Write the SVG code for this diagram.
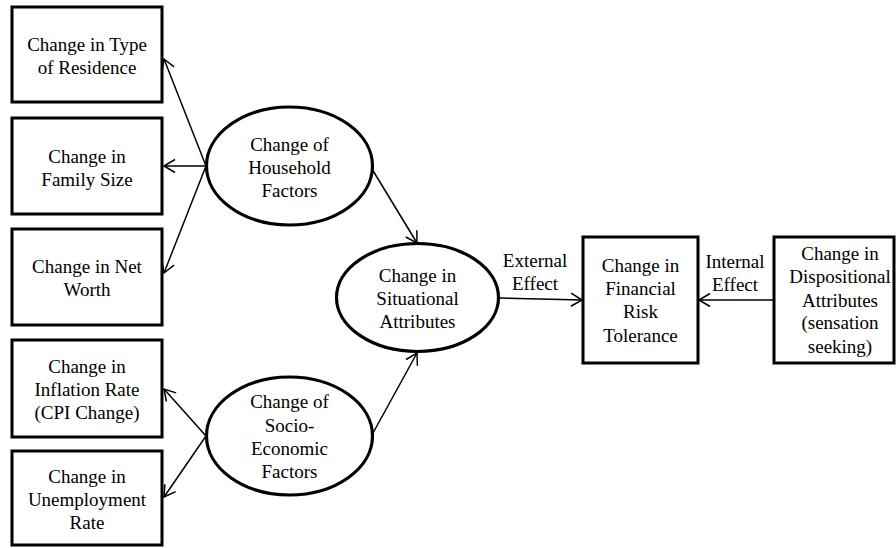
<svg xmlns="http://www.w3.org/2000/svg" width="896" height="548" viewBox="0 0 896 548">
<style>
.box{fill:#fff;stroke:#000;stroke-width:3}
.ell{fill:#fff;stroke:#000;stroke-width:3.2}
text{font-family:'Liberation Serif','Times New Roman',Times,'DejaVu Serif',serif;font-size:19px;fill:#000;text-anchor:middle}
.c{stroke:#000;stroke-width:1.5;fill:none;marker-end:url(#ah)}
</style>
<defs>
<marker id="ah" markerUnits="userSpaceOnUse" markerWidth="14" markerHeight="16" viewBox="-12 -8 14 16" refX="0" refY="0" orient="auto">
<path d="M-11,-6.5 L0,0 L-11,6.5" fill="none" stroke="#000" stroke-width="1.5"/>
</marker>
</defs>
<rect width="896" height="548" fill="#fff"/>
<g id="connectors">
<line class="c" x1="206" y1="166" x2="164" y2="59"/>
<line class="c" x1="206" y1="166" x2="164" y2="166"/>
<line class="c" x1="206" y1="166" x2="164" y2="273"/>
<line class="c" x1="206" y1="436" x2="164" y2="389"/>
<line class="c" x1="206" y1="436" x2="164" y2="497"/>
<line class="c" x1="372" y1="169" x2="417" y2="243"/>
<line class="c" x1="373" y1="433" x2="417" y2="353"/>
<line class="c" x1="499" y1="298" x2="582" y2="300"/>
<line class="c" x1="774" y1="300" x2="699" y2="300"/>
</g>
<g id="residence"><rect class="box" x="12" y="7" width="150" height="95"/>
<text x="87" y="51"><tspan x="87">Change in Type</tspan><tspan x="87" dy="23">of Residence</tspan></text></g>
<g id="family"><rect class="box" x="12" y="118" width="150" height="96"/>
<text x="87" y="163"><tspan x="87">Change in</tspan><tspan x="87" dy="23">Family Size</tspan></text></g>
<g id="networth"><rect class="box" x="12" y="229" width="150" height="96"/>
<text x="87" y="273"><tspan x="87">Change in Net</tspan><tspan x="87" dy="23">Worth</tspan></text></g>
<g id="inflation"><rect class="box" x="12" y="340" width="150" height="97"/>
<text x="87" y="373"><tspan x="87">Change in</tspan><tspan x="87" dy="23">Inflation Rate</tspan><tspan x="87" dy="23">(CPI Change)</tspan></text></g>
<g id="unemployment"><rect class="box" x="12" y="451" width="150" height="94"/>
<text x="87" y="483"><tspan x="87">Change in</tspan><tspan x="87" dy="23">Unemployment</tspan><tspan x="87" dy="23">Rate</tspan></text></g>
<g id="household"><ellipse class="ell" cx="289.5" cy="166" rx="83" ry="59"/>
<text x="289.5" y="151"><tspan x="289.5">Change of</tspan><tspan x="289.5" dy="23">Household</tspan><tspan x="289.5" dy="23">Factors</tspan></text></g>
<g id="socio"><ellipse class="ell" cx="289.5" cy="436" rx="83" ry="59"/>
<text x="289.5" y="408"><tspan x="289.5">Change of</tspan><tspan x="289.5" dy="23.5">Socio-</tspan><tspan x="289.5" dy="23.5">Economic</tspan><tspan x="289.5" dy="23">Factors</tspan></text></g>
<g id="situational"><ellipse class="ell" cx="417.5" cy="297.5" rx="81" ry="54"/>
<text x="417.5" y="282"><tspan x="417.5">Change in</tspan><tspan x="417.5" dy="23">Situational</tspan><tspan x="417.5" dy="23">Attributes</tspan></text></g>
<g id="external-label"><text x="535" y="267"><tspan x="535">External</tspan><tspan x="535" dy="23">Effect</tspan></text></g>
<g id="risk"><rect class="box" x="583" y="237" width="115" height="126"/>
<text x="640.5" y="272"><tspan x="640.5">Change in</tspan><tspan x="640.5" dy="23">Financial</tspan><tspan x="640.5" dy="23">Risk</tspan><tspan x="640.5" dy="24">Tolerance</tspan></text></g>
<g id="internal-label"><text x="735" y="268"><tspan x="735">Internal</tspan><tspan x="735" dy="23">Effect</tspan></text></g>
<g id="dispositional"><rect class="box" x="774" y="237" width="120" height="126"/>
<text x="840" y="260"><tspan x="840">Change in</tspan><tspan x="840" dy="23">Dispositional</tspan><tspan x="840" dy="23.5">Attributes</tspan><tspan x="840" dy="22.5">(sensation</tspan><tspan x="840" dy="23.5">seeking)</tspan></text></g>
</svg>
